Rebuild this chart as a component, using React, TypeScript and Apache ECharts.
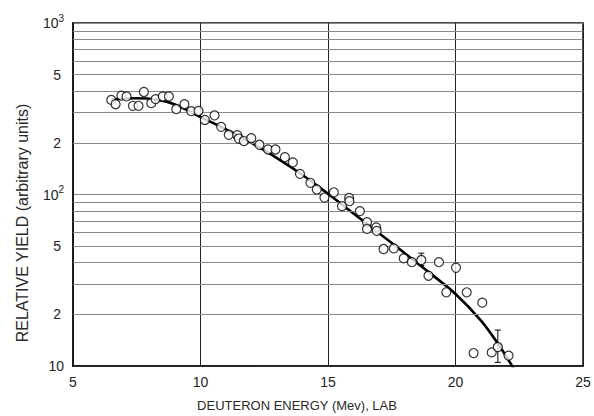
import React, { useEffect, useRef } from "react";
import * as echarts from "echarts";

// Measured points: deuteron energy (MeV, lab) and relative yield
const energy = [
  6.5, 6.67, 6.9, 7.1, 7.35, 7.57, 7.78, 8.07, 8.24, 8.52, 8.76, 9.05, 9.37, 9.64, 9.92,
  10.17, 10.55, 10.81, 11.11, 11.44, 11.5, 11.7, 11.99, 12.31, 12.65, 12.94, 13.31, 13.62, 13.9,
  14.31, 14.56, 14.86, 15.23, 15.55, 15.83, 15.84, 16.25, 16.53, 16.53, 16.89, 16.91,
  17.18, 17.58, 17.97, 18.29, 18.66, 18.94, 19.35, 19.64, 20.02, 20.44, 21.05, 20.71,
  21.42, 21.66, 22.08,
];
const yieldValues = [
  356, 336, 377, 373, 329, 329, 396, 341, 360, 373, 373, 315, 336, 306, 307,
  272, 289, 248, 223, 222, 212, 205, 213, 195, 183, 183, 165, 154, 132,
  117, 107, 96, 103, 85.5, 95.5, 91.4, 80, 69, 63, 64.3, 61.4,
  48.1, 48.5, 42.4, 40.3, 41.5, 33.6, 40.3, 26.9, 37.4, 26.9, 23.4, 11.9,
  12.0, 12.9, 11.5,
];

// Fitted curve
const curveEnergy = [6.5, 7.5, 8.3, 9.0, 10.0, 11.0, 12.0, 13.0, 14.0, 15.0, 16.0, 17.0, 18.0, 19.0, 20.0, 21.0, 21.7, 22.3];
const curveYield = [358, 364, 357, 335, 283, 240, 200, 163, 130, 101, 77.5, 59.5, 45.6, 34.8, 26.3, 18.4, 13.25, 9.55];

// Error bars
const errEnergy = [18.66, 21.66];
const errLow = [38.5, 10.5];
const errHigh = [45.5, 16.2];

// Minor grid values and their labels
const minorGrid = [20, 30, 40, 50, 60, 70, 80, 90, 200, 300, 400, 500, 600, 700, 800, 900];
const minorLabels: Record<number, string> = { 20: "2", 50: "5", 200: "2", 500: "5" };

const xTicks = { min: 5, max: 25, interval: 5 };

const FONT = "'Liberation Sans', Arial, sans-serif";

export default function App() {
  const ref = useRef<HTMLDivElement>(null);
  useEffect(() => {
    if (!ref.current) return;
    const chart = echarts.init(ref.current, undefined, { renderer: "svg" });
    const scatterData = energy.map((e, i) => [e, yieldValues[i]]);
    const curveData = curveEnergy.map((e, i) => [e, curveYield[i]]);
    const errData = errEnergy.map((e, i) => [e, errLow[i], errHigh[i]]);
    const option: any = {
      animation: false,
      backgroundColor: "#fff",
      textStyle: { fontFamily: FONT },
      grid: {
        left: 73,
        right: 11,
        top: 23,
        bottom: 50,
        show: true,
        borderColor: "#111",
        borderWidth: 1.5,
        backgroundColor: "transparent",
      },
      xAxis: {
        type: "value",
        min: xTicks.min,
        max: xTicks.max,
        interval: xTicks.interval,
        axisLine: { show: true, lineStyle: { color: "#111", width: 1.5 } },
        axisTick: { show: false },
        axisLabel: { color: "#222", fontSize: 14, margin: 9, fontFamily: FONT },
        splitLine: { show: true, lineStyle: { color: "#222", width: 1 } },
      },
      yAxis: {
        type: "log",
        logBase: 10,
        min: 10,
        max: 1000,
        axisLine: { show: true, lineStyle: { color: "#111", width: 1.5 } },
        axisTick: { show: false },
        axisLabel: {
          color: "#222",
          fontSize: 14,
          margin: 9,
          fontFamily: FONT,
          formatter: (v: number) => {
            if (Math.abs(v - 10) < 1e-6) return "{a|10}";
            if (Math.abs(v - 100) < 1e-6) return "{a|10}{s|2}";
            return "{a|10}{s|3}";
          },
          rich: {
            a: { fontSize: 14, color: "#222", fontFamily: FONT },
            s: { fontSize: 10, color: "#222", fontFamily: FONT, padding: [0, 0, 10, 0] },
          },
        },
        splitLine: { show: true, lineStyle: { color: "#8a8a8a", width: 1 } },
      },
      graphic: [
        {
          type: "text",
          x: 22,
          y: 223,
          rotation: Math.PI / 2,
          style: {
            text: "RELATIVE YIELD (arbitrary units)",
            fontSize: 16,
            fontFamily: FONT,
            fill: "#2a2a2a",
            textAlign: "center",
            textVerticalAlign: "middle",
          },
        },
        {
          type: "text",
          x: 297,
          y: 405,
          style: {
            text: "DEUTERON ENERGY (Mev), LAB",
            fontSize: 13,
            fontFamily: FONT,
            fill: "#2a2a2a",
            textAlign: "center",
            textVerticalAlign: "middle",
          },
        },
      ],
      series: [
        {
          type: "line",
          data: curveData,
          smooth: 0.35,
          symbol: "none",
          lineStyle: { color: "#000", width: 2.6 },
          z: 3,
          markLine: {
            silent: true,
            symbol: "none",
            lineStyle: { color: "#8a8a8a", width: 1, type: "solid" },
            data: minorGrid.map((v) => ({
              yAxis: v,
              label: minorLabels[v]
                ? {
                    show: true,
                    position: "start",
                    formatter: minorLabels[v],
                    color: "#222",
                    fontSize: 14,
                    fontFamily: FONT,
                    distance: 12,
                  }
                : { show: false },
            })),
          },
        },
        {
          type: "custom",
          data: errData,
          encode: { x: 0, y: [1, 2] },
          z: 4,
          renderItem: (params: any, api: any) => {
            const x = api.value(0);
            const lo = api.value(1);
            const hi = api.value(2);
            const p1 = api.coord([x, hi]);
            const p2 = api.coord([x, lo]);
            const style = { stroke: "#000", lineWidth: 1 };
            return {
              type: "group",
              children: [
                { type: "line", shape: { x1: p1[0], y1: p1[1], x2: p2[0], y2: p2[1] }, style },
                { type: "line", shape: { x1: p1[0] - 3, y1: p1[1], x2: p1[0] + 3, y2: p1[1] }, style },
                { type: "line", shape: { x1: p2[0] - 3, y1: p2[1], x2: p2[0] + 3, y2: p2[1] }, style },
              ],
            };
          },
        },
        {
          type: "scatter",
          data: scatterData,
          symbol: "circle",
          symbolSize: 9,
          z: 5,
          itemStyle: { color: "#fff", borderColor: "#000", borderWidth: 1.2 },
        },
      ],
    };
    chart.setOption(option);
    return () => chart.dispose();
  }, []);
  return (
    <div
      ref={ref}
      style={{ position: "fixed", left: 0, top: 0, width: 594, height: 416, background: "#fff" }}
    />
  );
}
